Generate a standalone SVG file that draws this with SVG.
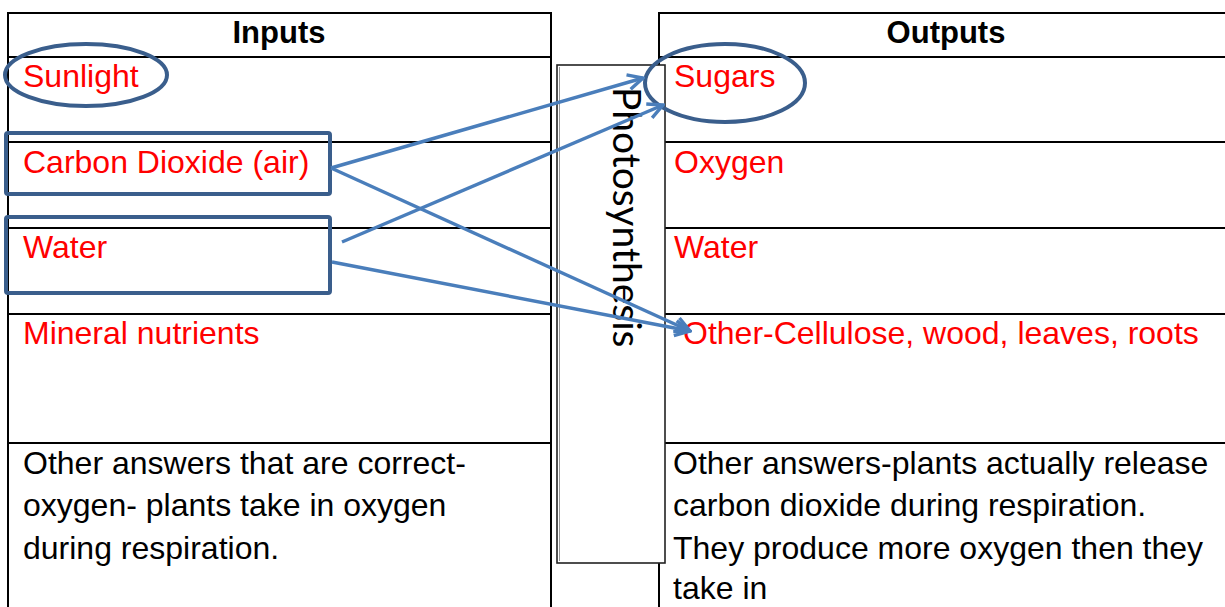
<svg xmlns="http://www.w3.org/2000/svg" width="1225" height="607" viewBox="0 0 1225 607">
<style>
.grid{fill:none;stroke:#000;stroke-width:2}
.hd{font-family:"Liberation Sans",Arial,sans-serif;font-weight:bold;font-size:31px;fill:#000;text-anchor:middle}
.red{font-family:"Liberation Sans",Arial,sans-serif;font-size:32px;fill:#ff0000}
.blk{font-family:"Liberation Sans",Arial,sans-serif;font-size:32px;fill:#000}
.hl{fill:none;stroke:#3A5E8C;stroke-width:4}
.conn{fill:none;stroke:#4A7EBB;stroke-width:3.4}
.proc{font-family:Lato,"Open Sans",sans-serif;font-size:39px;fill:#000}
</style>
<defs>
<marker id="arr" markerUnits="userSpaceOnUse" viewBox="-18 -10 20 20" markerWidth="20" markerHeight="20" refX="0" refY="0" orient="auto">
<path d="M-15,-7.5 L0,0 L-15,7.5" fill="none" stroke="#4A7EBB" stroke-width="3.4"/>
</marker>
</defs>
<rect width="1225" height="607" fill="#fff"/>
<g id="inputs-table">
<rect class="grid" x="8" y="13" width="543" height="640"/>
<line class="grid" x1="8" y1="57" x2="551" y2="57"/>
<line class="grid" x1="8" y1="142" x2="551" y2="142"/>
<line class="grid" x1="8" y1="228" x2="551" y2="228"/>
<line class="grid" x1="8" y1="314" x2="551" y2="314"/>
<line class="grid" x1="8" y1="443" x2="551" y2="443"/>
<text class="hd" x="279" y="43">Inputs</text>
<text class="red" x="23" y="87">Sunlight</text>
<text class="red" x="23" y="173">Carbon Dioxide (air)</text>
<text class="red" x="23" y="258">Water</text>
<text class="red" x="23" y="344">Mineral nutrients</text>
<text class="blk" x="23" y="474">Other answers that are correct-</text>
<text class="blk" x="23" y="516">oxygen- plants take in oxygen</text>
<text class="blk" x="23" y="559">during respiration.</text>
</g>
<g id="outputs-table">
<rect class="grid" x="659" y="13" width="600" height="640"/>
<line class="grid" x1="659" y1="57" x2="1260" y2="57"/>
<line class="grid" x1="659" y1="142" x2="1260" y2="142"/>
<line class="grid" x1="659" y1="228" x2="1260" y2="228"/>
<line class="grid" x1="659" y1="314" x2="1260" y2="314"/>
<line class="grid" x1="659" y1="443" x2="1260" y2="443"/>
<text class="hd" x="946" y="43">Outputs</text>
<text class="red" x="674" y="87">Sugars</text>
<text class="red" x="674" y="173">Oxygen</text>
<text class="red" x="674" y="258">Water</text>
<text class="red" x="683" y="344">Other-Cellulose, wood, leaves, roots</text>
<text class="blk" x="673" y="474">Other answers-plants actually release</text>
<text class="blk" x="673" y="516">carbon dioxide during respiration.</text>
<text class="blk" x="673" y="559">They produce more oxygen then they</text>
<text class="blk" x="673" y="599">take in</text>
</g>
<g id="photosynthesis">
<rect x="557" y="65" width="108" height="498" fill="#fff" stroke="#222" stroke-width="1.6"/>
<line x1="559.5" y1="67" x2="559.5" y2="561" stroke="#999" stroke-width="1"/>
<text class="proc" transform="translate(613,87) rotate(90)">Photosynthesis</text>
</g>
<g id="highlights">
<ellipse id="hl-sunlight" class="hl" cx="86" cy="75" rx="81" ry="31"/>
<rect id="hl-carbon" class="hl" x="6" y="133" width="324" height="61" rx="2"/>
<rect id="hl-water" class="hl" x="6" y="217" width="324" height="76" rx="2"/>
<ellipse id="hl-sugars" class="hl" cx="725" cy="83" rx="80" ry="39"/>
</g>
<g id="connectors">
<line class="conn" x1="331" y1="168" x2="643" y2="78" marker-end="url(#arr)"/>
<line class="conn" x1="331" y1="168" x2="690" y2="331" marker-end="url(#arr)"/>
<line class="conn" x1="342" y1="242" x2="663" y2="105" marker-end="url(#arr)"/>
<line class="conn" x1="332" y1="262" x2="690" y2="331" marker-end="url(#arr)"/>
</g>
</svg>
